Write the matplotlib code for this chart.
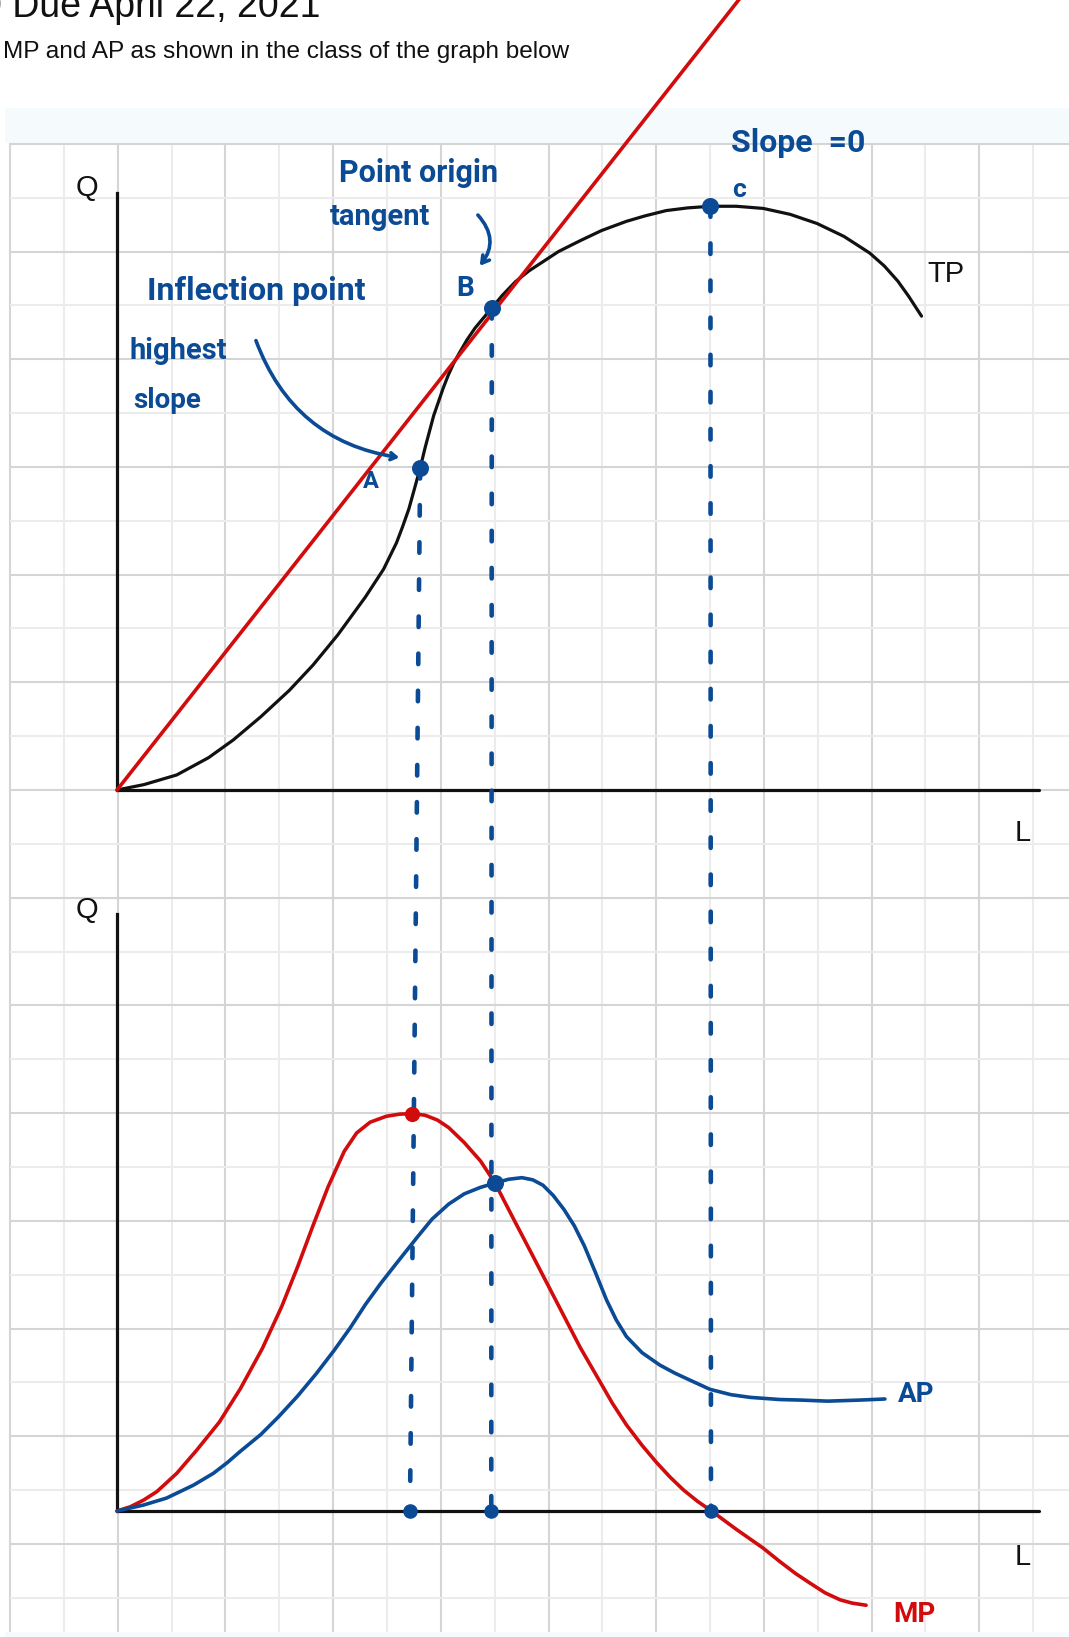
import matplotlib.pyplot as plt
from matplotlib.patches import Rectangle

# ---- data, in grid cells (1 cell of the squared paper = 1 unit) ----
# total product, upper panel
tp_L = [0.00, 0.50, 1.11, 1.70, 2.16, 2.67, 3.20, 3.64, 4.10, 4.61, 4.95, 5.19,
        5.30, 5.42, 5.52, 5.63, 5.72, 5.80, 5.88, 5.97, 6.06, 6.15, 6.25, 6.36,
        6.50, 6.65, 6.80, 6.96, 7.15, 7.40, 7.65, 7.91, 8.20, 8.60, 9.00, 9.46,
        9.80, 10.20, 10.60, 11.02, 11.50, 12.00, 12.50, 13.00, 13.50, 13.98,
        14.25, 14.50, 14.70, 14.94]
tp_Q = [0.00, 0.10, 0.28, 0.60, 0.93, 1.36, 1.85, 2.32, 2.88, 3.58, 4.10, 4.59,
        4.88, 5.22, 5.58, 5.98, 6.35, 6.65, 6.95, 7.21, 7.47, 7.70, 7.92, 8.12,
        8.36, 8.58, 8.76, 8.95, 9.18, 9.44, 9.64, 9.81, 10.00, 10.20, 10.39, 10.56,
        10.66, 10.76, 10.81, 10.84, 10.84, 10.80, 10.69, 10.52, 10.28, 9.97,
        9.73, 9.45, 9.17, 8.80]

# ray from the origin, tangent at B
ray_L = [0.0, 12.0]
ray_Q = [0.0, 15.25]

# marginal product, lower panel
mp_L = [0.00, 0.25, 0.49, 0.74, 1.11, 1.48, 1.90, 2.29, 2.70, 3.06, 3.36, 3.64,
        3.92, 4.22, 4.45, 4.70, 5.00, 5.25, 5.48, 5.72, 5.95, 6.16, 6.45, 6.75,
        7.02, 7.35, 7.71, 8.00, 8.30, 8.60, 8.97, 9.20, 9.46, 9.75, 10.02, 10.27,
        10.52, 10.78, 11.04, 11.50, 12.00, 12.31, 12.60, 12.87, 13.15, 13.43,
        13.65, 13.91]
mp_Q = [0.00, 0.08, 0.20, 0.36, 0.70, 1.13, 1.65, 2.27, 3.02, 3.80, 4.55, 5.30,
        6.02, 6.68, 7.02, 7.22, 7.33, 7.37, 7.38, 7.35, 7.26, 7.12, 6.84, 6.50,
        6.09, 5.45, 4.76, 4.20, 3.62, 3.04, 2.40, 2.00, 1.60, 1.22, 0.90, 0.63,
        0.39, 0.18, 0.00, -0.34, -0.69, -0.94, -1.16, -1.34, -1.52, -1.65,
        -1.71, -1.75]

# average product, lower panel
ap_L = [0.00, 0.49, 0.92, 1.42, 1.79, 2.05, 2.28, 2.67, 3.00, 3.35, 3.70, 4.03,
        4.33, 4.61, 4.90, 5.19, 5.58, 5.85, 6.16, 6.45, 6.75, 7.02, 7.27, 7.52,
        7.72, 7.91, 8.10, 8.30, 8.49, 8.68, 8.88, 9.09, 9.27, 9.46, 9.75, 10.08,
        10.36, 10.64, 11.01, 11.40, 11.76, 12.31, 12.70, 13.20, 13.80, 14.26]
ap_Q = [0.00, 0.11, 0.24, 0.48, 0.70, 0.90, 1.10, 1.42, 1.75, 2.13, 2.55, 2.98,
        3.40, 3.83, 4.23, 4.60, 5.09, 5.42, 5.70, 5.89, 6.01, 6.09, 6.16, 6.19,
        6.15, 6.05, 5.86, 5.60, 5.30, 4.92, 4.44, 3.92, 3.55, 3.24, 2.94, 2.71,
        2.56, 2.43, 2.26, 2.16, 2.11, 2.07, 2.06, 2.04, 2.06, 2.08]

# points A, B, C on TP and where their drop lines meet the lower L axis
pts_L = [5.63, 6.96, 11.02]
pts_Q = [5.98, 8.95, 10.84]
drop_L = [5.44, 6.95, 11.03]
mp_max = (5.48, 7.38)
cross = (7.02, 6.09)

# ---- page geometry (pixels of the 1069 x 1637 screenshot) ----
W, H = 1069, 1637
X0 = 117          # pixel column of L = 0
CELL = 53.85      # grid cell size
Y_LOW = 1511      # pixel row of the lower L axis
Y_UP = 790        # pixel row of the upper L axis
OFF = (Y_LOW - Y_UP) / CELL

BLUE = '#0b4a94'
RED = '#d20c0c'
INK = '#111111'
HAND = 'Roboto'


def u(px, py):
    return (px - X0) / CELL, (Y_LOW - py) / CELL


fig = plt.figure(figsize=(W / 100, H / 100), dpi=100)
ax = fig.add_axes([0, 0, 1, 1])
ax.set_xlim(-X0 / CELL, (W - X0) / CELL)
ax.set_ylim((Y_LOW - H) / CELL, Y_LOW / CELL)
ax.axis('off')

# paper background and squared grid
gx0, gy_top = u(10, 143)
gx1, gy_bot = u(W, 1632)
ax.add_patch(Rectangle((gx0 - 0.1, gy_top), 30, u(0, 108)[1] - gy_top, color='#f5fbfc', lw=0, zorder=0))
ax.add_patch(Rectangle((gx0 - 0.1, -10), 30, gy_bot + 10, color='#f5fbfc', lw=0, zorder=0))
for k in range(0, 21):
    x = gx0 + k
    if x > gx1:
        break
    ax.plot([x, x], [gy_bot, gy_top], color='#d5d5d5' if k % 2 == 0 else '#ececec',
            lw=1.5, zorder=1, solid_capstyle='butt')
for k in range(-16, 13):
    y = OFF + k
    if y > gy_top + 0.01 or y < gy_bot:
        continue
    ax.plot([gx0, gx1], [y, y], color='#d5d5d5' if k % 2 == 0 else '#ececec',
            lw=1.5, zorder=1, solid_capstyle='butt')

# axes of both panels
for base in (OFF, 0):
    ax.plot([0, 0], [base, base + 11.08], color=INK, lw=2.3, zorder=3)
    ax.plot([0, 17.12], [base, base], color=INK, lw=2.3, zorder=3, solid_capstyle='round')

# upper panel: TP and the ray
ax.plot(tp_L, [q + OFF for q in tp_Q], color=INK, lw=2.3, zorder=4,
        solid_capstyle='round', solid_joinstyle='round')
ax.plot(ray_L, [q + OFF for q in ray_Q], color=RED, lw=2.6, zorder=5, solid_capstyle='round')

# lower panel: MP and AP
ax.plot(mp_L, mp_Q, color=RED, lw=2.6, zorder=4, solid_capstyle='round', solid_joinstyle='round')
ax.plot(ap_L, ap_Q, color=BLUE, lw=2.6, zorder=5, solid_capstyle='round', solid_joinstyle='round')

# dashed drop lines
for xt, qt, xb in zip(pts_L, pts_Q, drop_L):
    ax.plot([xt, xb], [qt + OFF, 0], color=BLUE, lw=3.3, ls=(0, (2.3, 5.8)),
            dash_capstyle='round', zorder=6)
ax.scatter(pts_L, [q + OFF for q in pts_Q], s=150, color=BLUE, zorder=7, lw=0)
ax.scatter(drop_L, [0, 0, 0], s=110, color=BLUE, zorder=7, lw=0)
ax.scatter([cross[0]], [cross[1]], s=150, color=BLUE, zorder=7, lw=0)
ax.scatter([mp_max[0]], [mp_max[1]], s=120, color=RED, zorder=7, lw=0)

# printed labels
for txt, px, py in [('Q', 87, 188), ('Q', 87, 910), ('L', 1023, 833),
                    ('L', 1023, 1557), ('TP', 946, 274)]:
    ax.text(*u(px, py), txt, fontsize=21, family='Liberation Sans',
            ha='center', va='center', color=INK, zorder=8)
ax.text(*u(-19, 17), '0 Due April 22, 2021', fontsize=27, family='Liberation Sans',
        ha='left', va='baseline', color=INK)
ax.text(*u(3, 58), 'MP and AP as shown in the class of the graph below', fontsize=17.6,
        family='Liberation Sans', ha='left', va='baseline', color=INK)

# handwritten notes
notes = [('Point origin', 419, 173, 22), ('tangent', 380, 217, 21), ('B', 465, 289, 20),
         ('Inflection point', 256, 291, 23), ('highest', 178, 351, 21),
         ('slope', 167, 400, 20), ('A', 371, 482, 17), ('Slope  =0', 798, 143, 23),
         ('c', 739, 190, 19), ('AP', 916, 1394, 20)]
for txt, px, py, fs in notes:
    ax.text(*u(px, py), txt, fontsize=fs, family=HAND, weight='bold',
            ha='center', va='center', color=BLUE, zorder=8)
ax.text(*u(914, 1614), 'MP', fontsize=20, family=HAND, weight='bold',
        ha='center', va='center', color=RED, zorder=8)

ax.annotate('', xy=u(478, 268), xytext=u(476, 213),
            arrowprops=dict(arrowstyle='->,head_length=0.5,head_width=0.3', color=BLUE,
                            lw=2.6, connectionstyle='arc3,rad=-0.45'), zorder=8)
ax.annotate('', xy=u(402, 458), xytext=u(255, 338),
            arrowprops=dict(arrowstyle='->,head_length=0.4,head_width=0.25', color=BLUE,
                            lw=2.6, connectionstyle='arc3,rad=0.3'), zorder=8)

fig.savefig('out.png', dpi=100)
